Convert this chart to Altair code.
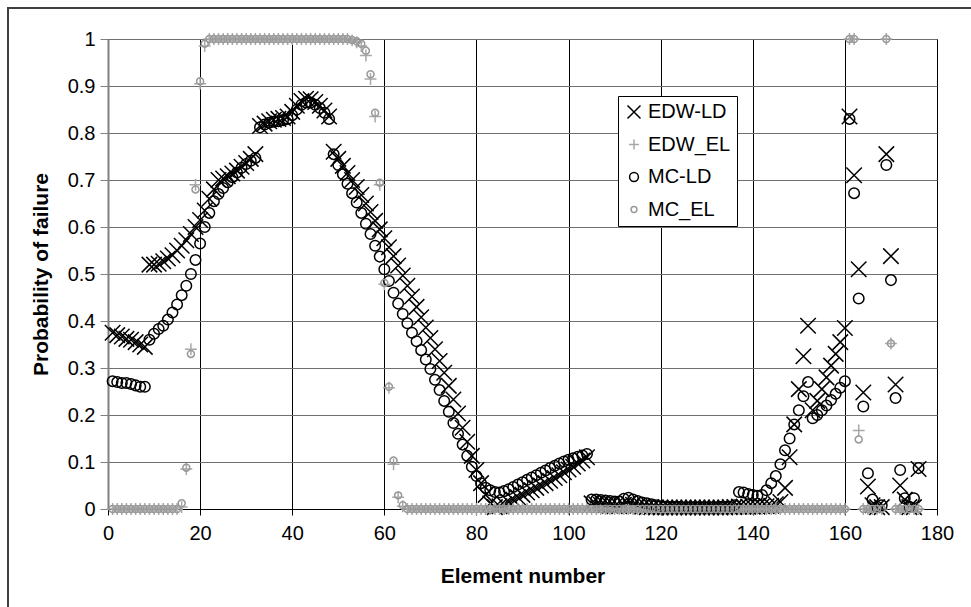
import altair as alt
import pandas as pd

# ---------------- data ----------------
element = list(range(1, 177))

edw_ld = (
    [0.375, 0.37, 0.367, 0.362, 0.36, 0.355, 0.35, 0.345]
    + [0.52, 0.52, 0.522, 0.527, 0.533, 0.54, 0.55, 0.56,
       0.572, 0.585, 0.6, 0.615, 0.635, 0.66, 0.68, 0.70,
       0.703, 0.708, 0.714, 0.72, 0.728, 0.736, 0.745, 0.755]
    + [0.815, 0.82, 0.825, 0.828, 0.83, 0.832, 0.835, 0.845,
       0.858, 0.868, 0.873, 0.872, 0.866, 0.858, 0.848, 0.835]
    + [0.76, 0.745, 0.73, 0.715, 0.70, 0.685, 0.668, 0.65, 0.632, 0.613,
       0.595, 0.576, 0.557, 0.538, 0.518, 0.497, 0.475, 0.452, 0.43, 0.408,
       0.386, 0.364, 0.34, 0.315, 0.29, 0.262, 0.233, 0.203, 0.173, 0.143,
       0.113, 0.083, 0.055, 0.03, 0.012]
    + [0.004, 0.006, 0.01, 0.015, 0.02, 0.025, 0.03, 0.035, 0.04, 0.045,
       0.05, 0.055, 0.06, 0.066, 0.072, 0.078, 0.084, 0.09, 0.097, 0.103, 0.11]
    + [0.012, 0.01, 0.009, 0.008, 0.007, 0.006, 0.006, 0.009, 0.011, 0.009,
       0.007, 0.005, 0.004, 0.004, 0.003, 0.003, 0.003, 0.003, 0.003, 0.003,
       0.003, 0.003, 0.003, 0.003, 0.003, 0.003, 0.003, 0.003, 0.003, 0.003,
       0.004, 0.004, 0.005, 0.005, 0.005, 0.005, 0.005, 0.006, 0.006, 0.007,
       0.01, 0.015]
    + [0.045, 0.11, 0.18, 0.255, 0.325, 0.39, 0.21, 0.23, 0.255, 0.28,
       0.305, 0.33, 0.355, 0.385]
    + [0.835, 0.71, 0.51, 0.248, 0.048, 0.008, 0.004, 0.004, 0.755, 0.538,
       0.265, 0.05, 0.02, 0.004, 0.004, 0.085]
)

mc_ld = (
    [0.272, 0.27, 0.268, 0.268, 0.266, 0.263, 0.26, 0.26]
    + [0.36, 0.373, 0.383, 0.39, 0.403, 0.418, 0.435, 0.455,
       0.475, 0.50, 0.53, 0.565, 0.60, 0.63, 0.655, 0.67,
       0.683, 0.695, 0.706, 0.716, 0.726, 0.734, 0.741, 0.747]
    + [0.812, 0.818, 0.822, 0.824, 0.825, 0.827, 0.83, 0.838,
       0.85, 0.86, 0.865, 0.865, 0.86, 0.853, 0.843, 0.83]
    + [0.755, 0.732, 0.712, 0.692, 0.672, 0.652, 0.63, 0.607, 0.585, 0.56,
       0.537, 0.51, 0.485, 0.46, 0.437, 0.415, 0.395, 0.375, 0.357, 0.338,
       0.318, 0.298, 0.275, 0.253, 0.23, 0.207, 0.183, 0.16, 0.137, 0.113,
       0.09, 0.07, 0.055, 0.045, 0.04]
    + [0.036, 0.035, 0.038, 0.042, 0.047, 0.052, 0.057, 0.062, 0.067, 0.072,
       0.077, 0.082, 0.087, 0.092, 0.097, 0.101, 0.105, 0.108, 0.111, 0.114, 0.117]
    + [0.02, 0.02, 0.019, 0.018, 0.017, 0.016, 0.016, 0.022, 0.024, 0.02,
       0.017, 0.014, 0.012, 0.01, 0.008, 0.006, 0.005, 0.004, 0.004, 0.004,
       0.003, 0.003, 0.003, 0.003, 0.003, 0.003, 0.003, 0.003, 0.004, 0.004,
       0.005, 0.008]
    + [0.036, 0.035, 0.032, 0.03, 0.028, 0.03, 0.04, 0.055, 0.07, 0.095,
       0.125, 0.15, 0.18, 0.21, 0.24, 0.27]
    + [0.193, 0.2, 0.21, 0.22, 0.232, 0.245, 0.258, 0.272]
    + [0.83, 0.672, 0.448, 0.218, 0.076, 0.02, 0.005, 0.008, 0.732, 0.487,
       0.236, 0.083, 0.023, 0.005, 0.023, 0.087]
)

edw_el = (
    [0.0] * 15
    + [0.004, 0.085, 0.34, 0.69, 0.905, 0.985]
    + [1.0] * 31
    + [0.997, 0.993, 0.985, 0.965, 0.915, 0.835, 0.69, 0.478, 0.258, 0.095, 0.025, 0.006]
    + [0.0] * 96
    + [1.0, 1.0, 0.167, 0.0, 0.0, 0.0, 0.0, 0.0, 1.0, 0.352, 0.0, 0.0, 0.0, 0.0, 0.0, 0.0]
)

mc_el = (
    [0.0] * 15
    + [0.012, 0.088, 0.33, 0.68, 0.91, 0.99]
    + [1.0] * 31
    + [0.998, 0.995, 0.99, 0.975, 0.925, 0.843, 0.694, 0.481, 0.26, 0.103, 0.029, 0.008]
    + [0.0] * 96
    + [1.0, 1.0, 0.148, 0.0, 0.0, 0.0, 0.0, 0.0, 1.0, 0.352, 0.0, 0.0, 0.0, 0.0, 0.0, 0.0]
)

series_names = ["EDW-LD", "EDW_EL", "MC-LD", "MC_EL"]
series_values = [edw_ld, edw_el, mc_ld, mc_el]
for v in series_values:
    assert len(v) == len(element), len(v)

# ---------------- styles ----------------
X_PATH = "M-1,-1L1,1M-1,1L1,-1"
PLUS_PATH = "M-0.77,0L0.77,0M0,-0.77L0,0.77"
BIG_CIRCLE = "M0.68,0A0.68,0.68 0 1,1 -0.68,0A0.68,0.68 0 1,1 0.68,0Z"
SMALL_CIRCLE = "M0.45,0A0.45,0.45 0 1,1 -0.45,0A0.45,0.45 0 1,1 0.45,0Z"
shapes = [X_PATH, PLUS_PATH, BIG_CIRCLE, SMALL_CIRCLE]
colors = ["#000000", "#a8a8a8", "#000000", "#999999"]
FONT = "Liberation Sans"

rows = []
for name, vals in zip(series_names, series_values):
    for e, v in zip(element, vals):
        rows.append({"Element": e, "Pf": v, "Series": name})
df = pd.DataFrame(rows)

legend = alt.Legend(
    title=None, orient="none", legendX=510, legendY=57,
    strokeColor="#000000", fillColor="#ffffff", padding=6,
    labelFont=FONT, labelFontSize=20, labelColor="#000000",
    labelOffset=4, rowPadding=12.5, symbolSize=169, symbolStrokeWidth=1.5,
)

points = alt.Chart(df).mark_point(filled=False, size=240, strokeWidth=1.5, opacity=1).encode(
    x=alt.X("Element:Q", scale=alt.Scale(domain=[0, 180], nice=False),
            axis=alt.Axis(title="Element number", values=list(range(0, 181, 20)),
                          grid=True, gridColor="#000000", gridWidth=1,
                          domainColor="#000000", tickColor="#000000", tickSize=6,
                          labelPadding=8, labelFont=FONT, labelFontSize=20,
                          labelColor="#000000", titleFont=FONT,
                          titleFontSize=21, titleFontWeight="bold",
                          titleColor="#000000", titlePadding=22, labelFlush=False)),
    y=alt.Y("Pf:Q", scale=alt.Scale(domain=[0, 1], nice=False),
            axis=alt.Axis(title="Probability of failure",
                          values=[round(i * 0.1, 1) for i in range(11)], format=".1~f",
                          grid=True, gridColor="#707070", gridWidth=1,
                          domainColor="#808080", domainWidth=2, tickColor="#808080",
                          tickSize=8, labelPadding=5, labelFont=FONT,
                          labelFontSize=20, labelColor="#000000",
                          titleFont=FONT, titleFontSize=21,
                          titleFontWeight="bold", titleColor="#000000",
                          titlePadding=16, labelFlush=False)),
    shape=alt.Shape("Series:N", scale=alt.Scale(domain=series_names, range=shapes), legend=legend),
    color=alt.Color("Series:N", scale=alt.Scale(domain=series_names, range=colors), legend=legend),
)

frame = alt.Chart(pd.DataFrame({"k": [0]})).mark_rect(
    fill="transparent", stroke="#404040", strokeWidth=2
).encode(
    x=alt.value(-100), x2=alt.value(870), y=alt.value(-31), y2=alt.value(575)
)

chart = alt.layer(frame, points).properties(
    width=829, height=470,
    autosize=alt.AutoSizeParams(type="none"),
    padding={"left": 108, "top": 39, "right": 34, "bottom": 98},
    background="#ffffff",
).configure_view(
    stroke="#000000", strokeWidth=1, fill="#ffffff"
)

chart.save("out.html", embed_options={"renderer": "svg", "actions": False})
